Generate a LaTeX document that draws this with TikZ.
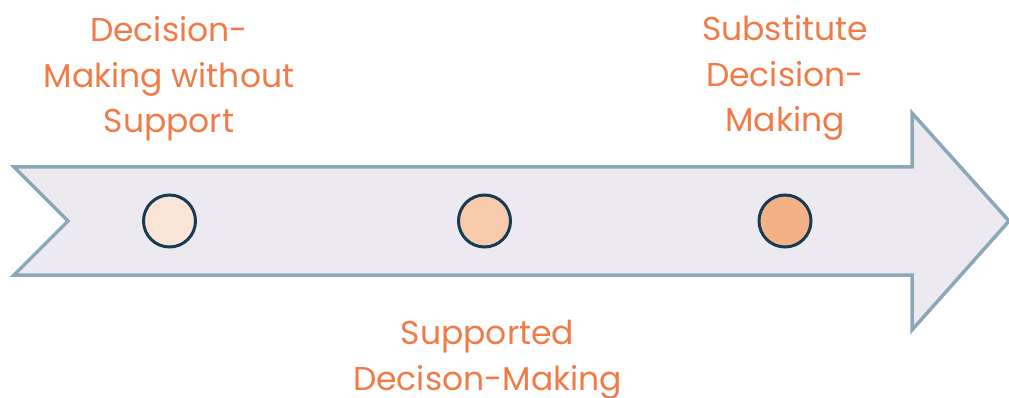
\documentclass[tikz,border=0pt]{standalone}
\usepackage{fontspec}
\setmainfont{Poppins}
\definecolor{txt}{HTML}{F07B47}
\definecolor{arrowfill}{HTML}{ECEAF0}
\definecolor{arrowline}{HTML}{8AA8B8}
\definecolor{ring}{HTML}{173A55}
\definecolor{c1}{HTML}{FAE4D7}
\definecolor{c2}{HTML}{F7CAAB}
\definecolor{c3}{HTML}{F4B284}
\begin{document}
\begin{tikzpicture}[x=1pt,y=-1pt,
  label/.style={text=txt,font=\fontsize{33}{45.5}\selectfont,align=center,anchor=base,inner sep=0pt},
  dot/.style={circle,draw=ring,line width=3pt,minimum size=52pt,inner sep=0pt}]
\useasboundingbox (0,0) rectangle (1009,398);
\draw[fill=arrowfill,draw=arrowline,line width=3.5pt,line join=miter]
  (14,167) -- (912,167) -- (912,113) -- (1009,221) -- (912,330) -- (912,275)
  -- (14,275) -- (68,221) -- cycle;
\node[dot,fill=c1] (d1) at (169.5,221) {};
\node[dot,fill=c2] (d2) at (484.5,221) {};
\node[dot,fill=c3] (d3) at (785,221) {};
\node[label] (t1) at (169,133) {Decision-\\Making without\\Support};
\node[label] (t3) at (785,132) {Substitute\\Decision-\\Making};
\node[label] (t2) at (487.5,390) {Supported\\Decison-Making};
\end{tikzpicture}
\end{document}
